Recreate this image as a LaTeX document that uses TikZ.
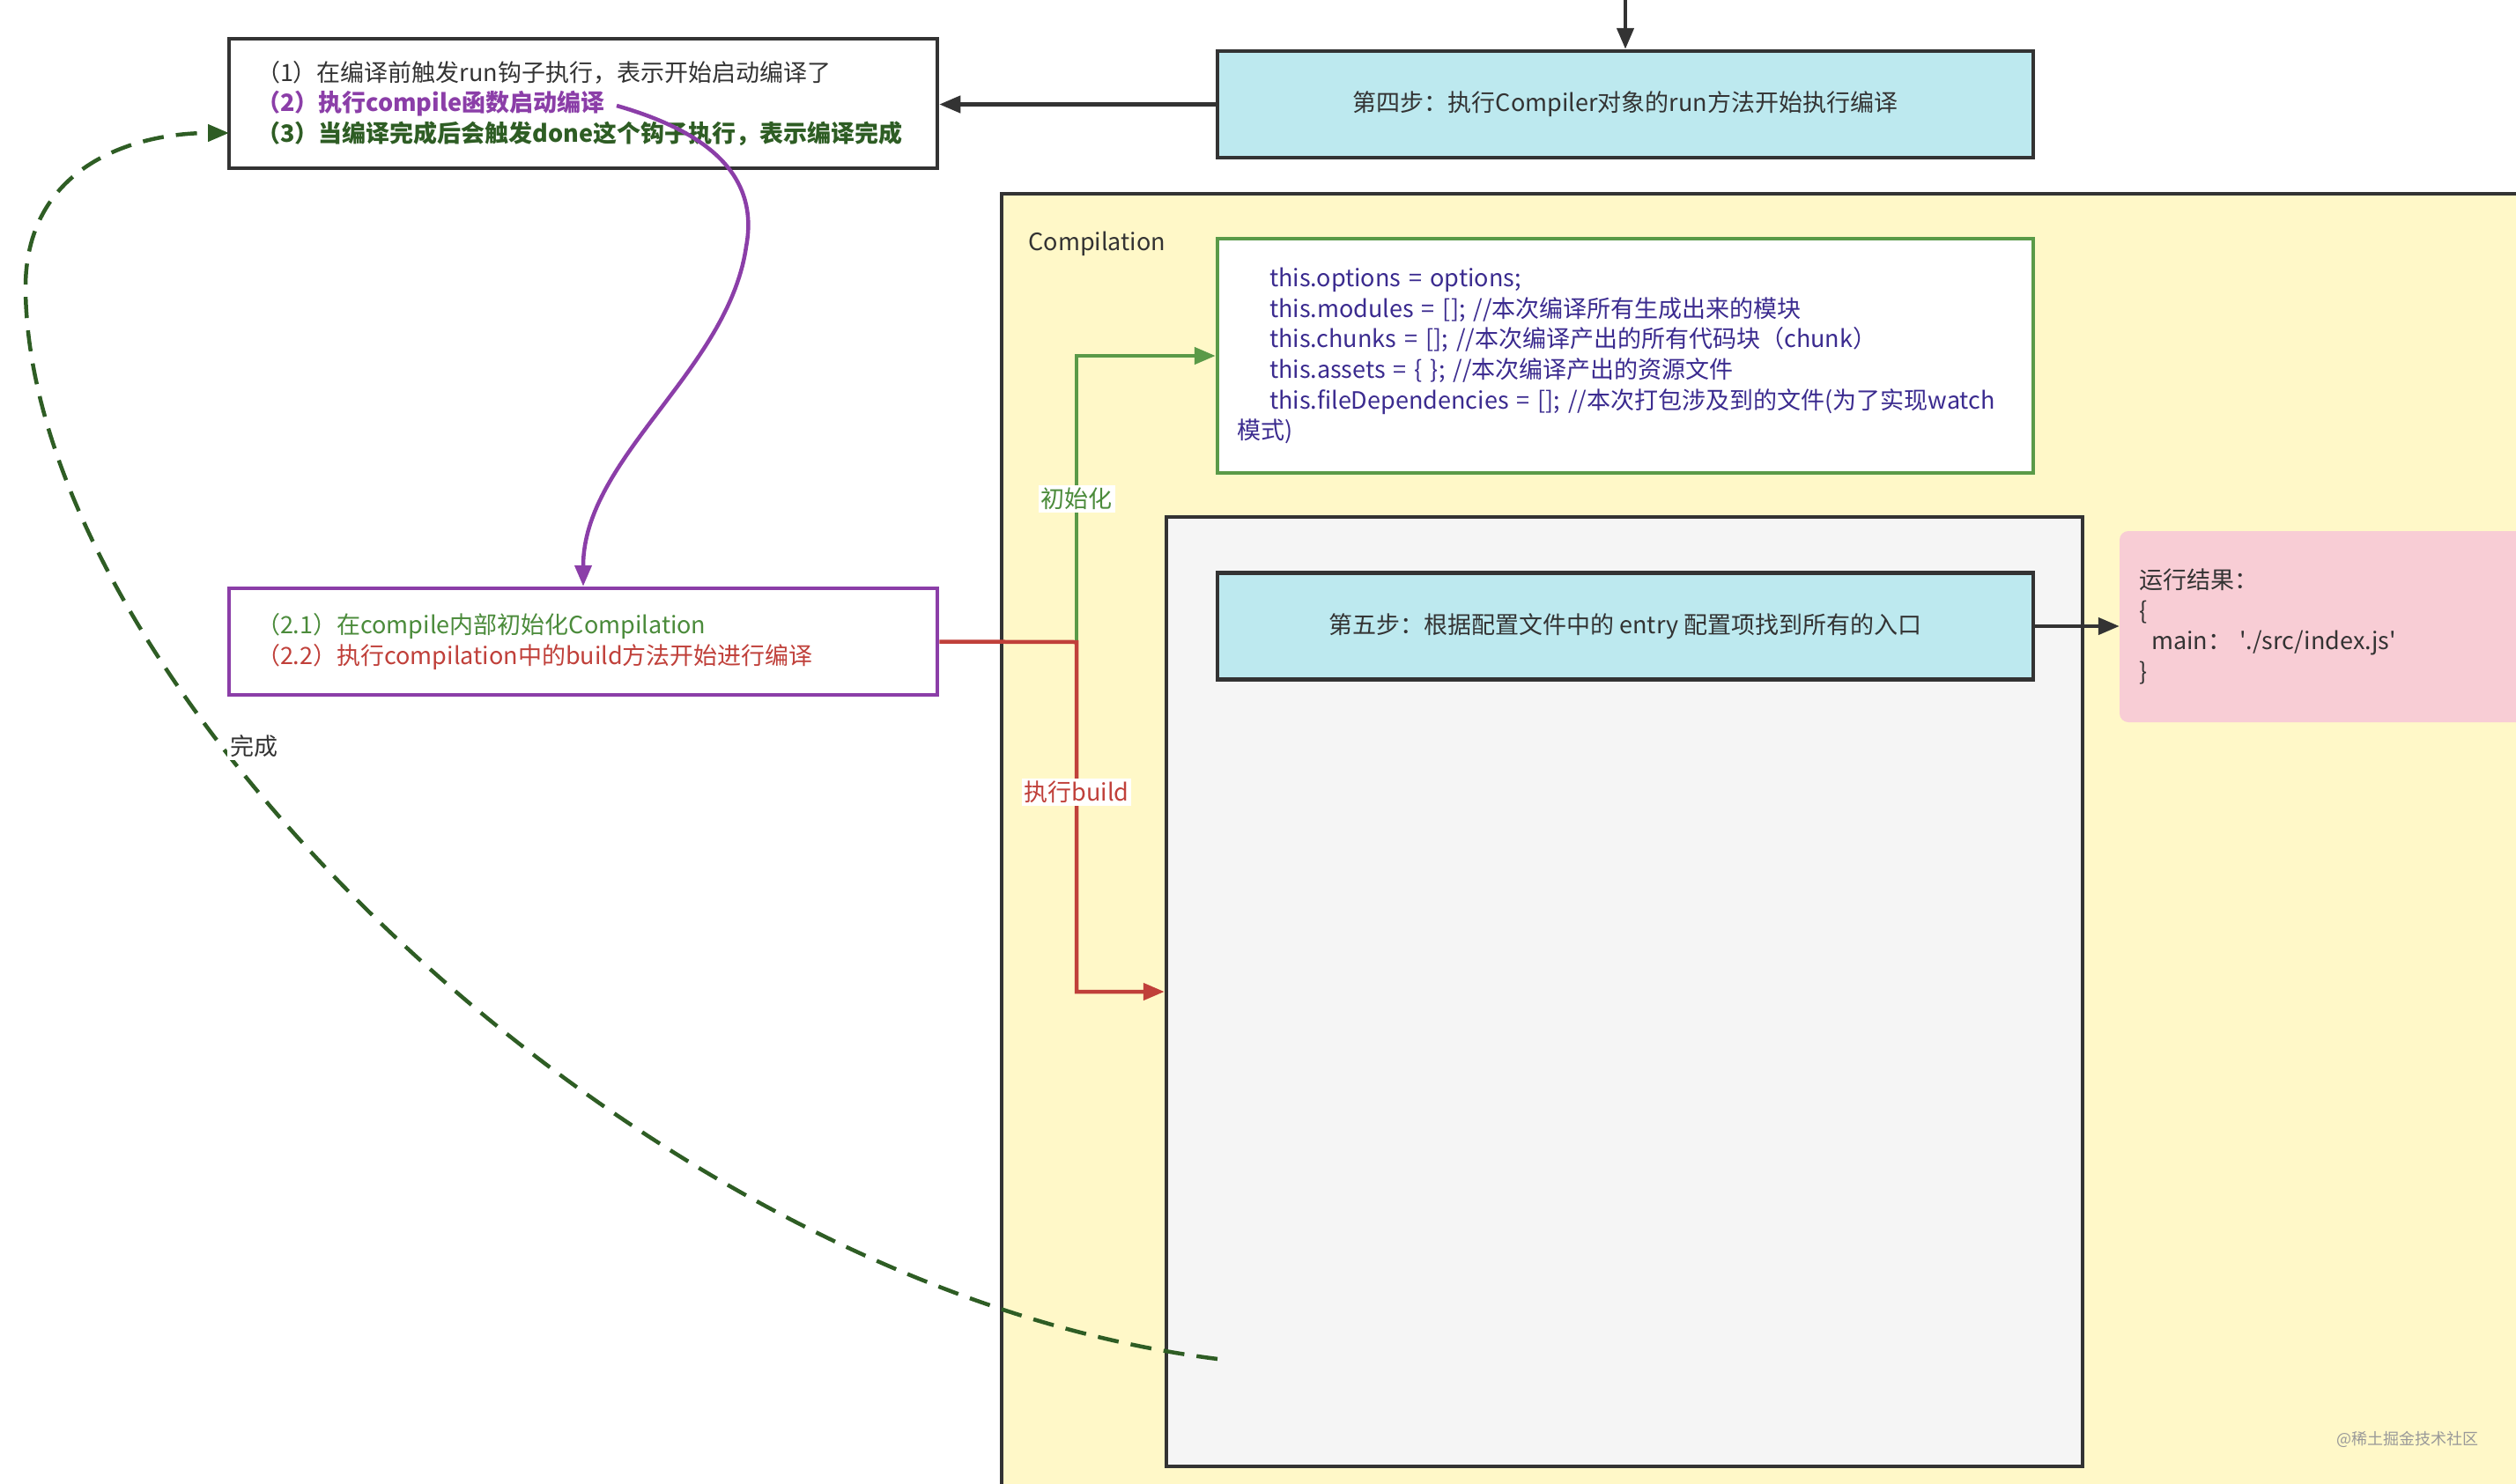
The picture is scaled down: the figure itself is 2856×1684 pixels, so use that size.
\documentclass[tikz,border=0pt]{standalone}
\usepackage{fontspec}
\setmainfont{Noto Sans CJK SC}
\usetikzlibrary{arrows.meta,positioning}
\definecolor{linedark}{HTML}{333333}
\definecolor{stepcyan}{HTML}{BDE9EF}
\definecolor{compyellow}{HTML}{FFF8C8}
\definecolor{boxgray}{HTML}{F5F5F5}
\definecolor{resultpink}{HTML}{F8CDD5}
\definecolor{initgreen}{HTML}{5A9A48}
\definecolor{textgreen}{HTML}{4B8B3B}
\definecolor{donegreen}{HTML}{2E5D24}
\definecolor{hookpurple}{HTML}{8B3EA8}
\definecolor{buildred}{HTML}{C0403A}
\definecolor{codeblue}{HTML}{3B2B8F}

\begin{document}
\begin{tikzpicture}[x=1pt,y=-1pt,
    every node/.style={font=\fontsize{27}{34.6}\selectfont, text=linedark},
    box/.style={draw=linedark, line width=4.5pt, rectangle, inner sep=0pt},
    stepbox/.style={box, fill=stepcyan, minimum width=926pt, minimum height=121pt},
    textbox/.style={box, fill=white, align=left, inner xsep=31pt, text width=742pt},
    arr/.style={draw=linedark, line width=4.5pt, -{Triangle[length=24pt,width=19pt]}},
    lbl/.style={fill=white, inner sep=3pt}]
  \useasboundingbox (0,0) rectangle (2856,1684);
  \clip (0,0) rectangle (2856,1684);

  % Compilation container and its contents
  \node[box, fill=compyellow, minimum width=1763pt, minimum height=1500pt]
    (compilation) at (2018.5,970) {};
  \node[anchor=west] (complabel) at (1164,277) {Compilation};
  \node[box, draw=initgreen, fill=white, minimum width=926pt, minimum height=266pt,
      align=left, inner xsep=22pt, text width=882pt, text=codeblue]
    (init) at (1845,404) {%
      \hspace*{37pt}this.options = options;\\
      \hspace*{37pt}this.modules = []; //本次编译所有生成出来的模块\\
      \hspace*{37pt}this.chunks = []; //本次编译产出的所有代码块（chunk）\\
      \hspace*{37pt}this.assets = \{ \}; //本次编译产出的资源文件\\
      \hspace*{37pt}this.fileDependencies = []; //本次打包涉及到的文件(为了实现watch\\
      模式)};
  \node[box, fill=boxgray, minimum width=1040pt, minimum height=1078pt]
    (gray) at (1844,1126) {};
  \node[stepbox] (step5) at (1845,711) {第五步：根据配置文件中的 entry 配置项找到所有的入口};
  \node[rectangle, fill=resultpink, rounded corners=10pt, minimum width=500pt,
      minimum height=217pt, align=left, inner xsep=22pt, text width=456pt]
    (result) at (2656,711.5)
    {运行结果：\\\{\\\hspace*{14pt}main： \textquotesingle./src/index.js\textquotesingle\\\}};

  % Compiler side
  \node[stepbox] (step4) at (1845,118.5) {第四步：执行Compiler对象的run方法开始执行编译};
  \node[textbox, minimum height=147pt] (hooks) at (662,117.5) {%
    （1）在编译前触发run钩子执行，表示开始启动编译了\\
    \textcolor{hookpurple}{\bfseries（2）执行compile函数启动编译}\\
    \textcolor{donegreen}{\bfseries（3）当编译完成后会触发done这个钩子执行，表示编译完成}};
  \node[textbox, draw=hookpurple, minimum height=121pt] (compile) at (662,728.5) {%
    \textcolor{textgreen}{（2.1）在compile内部初始化Compilation}\\
    \textcolor{buildred}{（2.2）执行compilation中的build方法开始进行编译}};

  % connectors
  \coordinate (topin) at (1845,0);
  \coordinate (split) at (1222,729);
  \coordinate (runhook) at (700,120);
  \coordinate (doneout) at (1382,1543);
  \coordinate (donein) at (260,151);
  \draw[arr] (topin) -- (step4.north);
  \draw[arr] (step4.west) -- (step4.west -| hooks.east);
  \draw[arr] (step5.east) -- (step5.east -| result.west);
  \draw[arr, draw=initgreen, -{Triangle[length=24pt,width=19pt,fill=initgreen]}]
    (split) |- (init.west) node[lbl, pos=0.25, text=textgreen] (initlbl) {初始化};
  \draw[arr, draw=buildred, -{Triangle[length=24pt,width=19pt,fill=buildred]}]
    (compile.east) -- (split) |- (gray.west)
    node[lbl, pos=0.215, text=buildred] (buildlbl) {执行build};
  \draw[arr, draw=hookpurple, -{Triangle[length=24pt,width=19pt,fill=hookpurple]}]
    (runhook) .. controls (805,150) and (862,200) .. (847,280)
    .. controls (827,420) and (662,520) .. (compile.north);
  \draw[arr, draw=donegreen, dash pattern=on 24pt off 14pt,
      -{Triangle[length=24pt,width=19pt,fill=donegreen]}]
    (doneout) .. controls (720,1460) and (35,780) .. (29,330)
    .. controls (27,190) and (150,151) .. (donein);
  \node[lbl] (donelbl) at (288,847) {完成};

  \node[text=gray!80, font=\fontsize{18}{22}\selectfont] (mark) at (2733,1634) {@稀土掘金技术社区};
\end{tikzpicture}
\end{document}
